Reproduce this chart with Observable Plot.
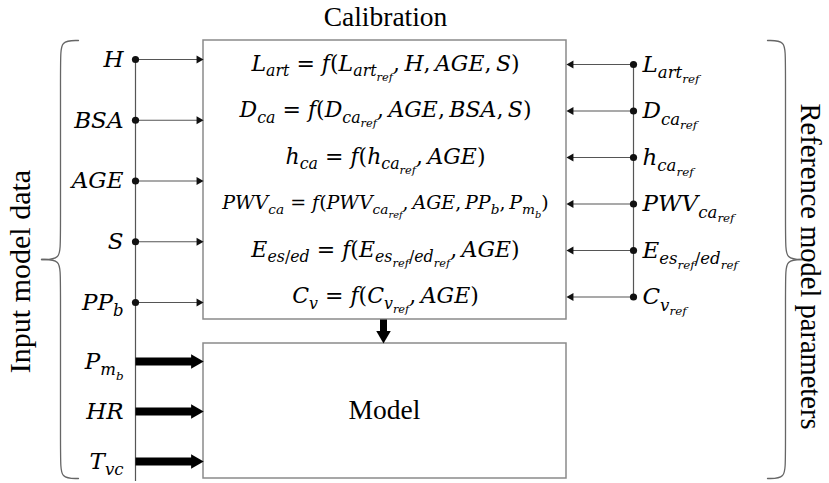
<!DOCTYPE html>
<html><head><meta charset="utf-8">
<script src="https://cdn.jsdelivr.net/npm/d3@7"></script>
<script src="https://cdn.jsdelivr.net/npm/@observablehq/plot@0.6"></script>
<style>
body{margin:0;background:#fff}
svg text.math, svg text.math tspan {font-family:"DejaVu Serif", serif !important; font-style: italic;}
svg text.serif {font-family:"Liberation Serif", "Times New Roman", serif !important;}
</style>
</head><body><div id="chart"></div>
<script>
// ---- content ----
const calibrationInputs = ["H", "BSA", "AGE", "S", "PP_{b}"];
const modelInputs = ["P_{m_{b}}", "HR", "T_{vc}"];
const referenceParams = ["L_{art_{ref}}", "D_{ca_{ref}}", "h_{ca_{ref}}", "PWV_{ca_{ref}}", "E_{es_{ref}/ed_{ref}}", "C_{v_{ref}}"];
const equations = [
  "L_{art} = f(L_{art_{ref}},H,AGE,S)",
  "D_{ca} = f(D_{ca_{ref}},AGE,BSA,S)",
  "h_{ca} = f(h_{ca_{ref}},AGE)",
  "PWV_{ca} = f(PWV_{ca_{ref}},AGE,PP_{b},P_{m_{b}})",
  "E_{es/ed} = f(E_{es_{ref}/ed_{ref}},AGE)",
  "C_{v} = f(C_{v_{ref}},AGE)"
];
const blockTitles = ["Calibration", "Model"];
const groupLabels = ["Input model data", "Reference model parameters"];

// ---- layout ----
const W = 829, H = 483;
const calib = {x1: 203, x2: 566, y1: 40, y2: 319};
const model = {x1: 203, x2: 566, y1: 343, y2: 478};
const leftBus = 135, rightBus = 633;
const inRow0 = 59, inStep = 60.75;
const mRow0 = 361, mStep = 50;
const refRow0 = 64, refStep = 46.5;
const eqX = 385;

const inRows = calibrationInputs.map((label, i) => ({label, y: inRow0 + i * inStep}));
const mRows = modelInputs.map((label, i) => ({label, y: mRow0 + i * mStep}));
const refRows = referenceParams.map((label, i) => ({label, y: refRow0 + i * refStep}));
const eqRows = equations.map((label, i) => ({label, y: refRow0 - 1 + i * refStep, long: label.length > 40}));
const boxes = [{...calib, name: blockTitles[0]}, {...model, name: blockTitles[1]}];

const braceL = [
  ...[[78,40],[60,40],[60,58],[60,241],[60,259],[41,259]].map(([x,y]) => ({x,y,z:"a"})),
  ...[[41,259],[60,259],[60,277],[60,460],[60,478],[78,478]].map(([x,y]) => ({x,y,z:"b"}))
];
const braceR = braceL.map(d => ({x: 845 - d.x, y: d.y, z: d.z}));

const chart = Plot.plot({
  width: W, height: H, margin: 0,
  x: {domain: [0, W], range: [0, W], axis: null},
  y: {domain: [0, H], range: [0, H], axis: null},
  style: {background: "#fff"},
  marks: [
    Plot.line(braceL, {x: "x", y: "y", z: "z", curve: "basis", stroke: "#666", strokeWidth: 1.3}),
    Plot.line(braceR, {x: "x", y: "y", z: "z", curve: "basis", stroke: "#666", strokeWidth: 1.3}),
    Plot.ruleX([leftBus], {y1: inRow0, y2: 481, stroke: "#555", strokeWidth: 1.2}),
    Plot.ruleX([rightBus], {y1: refRow0, y2: refRow0 + (referenceParams.length - 1) * refStep, stroke: "#555", strokeWidth: 1.2}),
    Plot.rect(boxes, {x1: "x1", x2: "x2", y1: "y1", y2: "y2", fill: "#fff", stroke: "#8a8a8a", strokeWidth: 1.5}),
    Plot.link(inRows, {x1: leftBus, x2: calib.x1 - 6, y1: "y", y2: "y", stroke: "#555", strokeWidth: 1.1}),
    Plot.dot(inRows, {x: calib.x1 - 4.6, y: "y", symbol: "triangle", r: 3, rotate: 90, fill: "#111", stroke: null}),
    Plot.dot(inRows, {x: leftBus, y: "y", r: 3.6, fill: "#111"}),
    Plot.link(refRows, {x1: rightBus, x2: calib.x2 + 6, y1: "y", y2: "y", stroke: "#555", strokeWidth: 1.1}),
    Plot.dot(refRows, {x: calib.x2 + 4.6, y: "y", symbol: "triangle", r: 3, rotate: -90, fill: "#111", stroke: null}),
    Plot.dot(refRows, {x: rightBus, y: "y", r: 3.6, fill: "#111"}),
    Plot.link(mRows, {x1: leftBus, x2: model.x1 - 9, y1: "y", y2: "y", stroke: "#000", strokeWidth: 8}),
    Plot.dot(mRows, {x: model.x1 - 8.2, y: "y", symbol: "triangle", r: 5.4, rotate: 90, fill: "#000", stroke: null}),
    Plot.link([eqX - 2], {x1: d => d, x2: d => d, y1: calib.y2, y2: model.y1 - 9, stroke: "#000", strokeWidth: 7}),
    Plot.dot([eqX - 2], {x: d => d, y: model.y1 - 8.4, symbol: "triangle", r: 5.4, rotate: 180, fill: "#000", stroke: null}),
    Plot.text(inRows.concat(mRows), {x: leftBus - 12, y: "y", text: "label", textAnchor: "end", fontSize: 23, fill: "#000", className: "mathlbl"}),
    Plot.text(refRows, {x: rightBus + 9, y: "y", text: "label", textAnchor: "start", fontSize: 23, fill: "#000", className: "mathlbl"}),
    Plot.text(eqRows, {x: eqX, y: "y", text: "label", fontSize: d => d.long ? 19 : 22, fill: "#000", className: "mathlbl"}),
    Plot.text([blockTitles[0]], {x: eqX, y: 17, text: d => d, fontSize: 27.5, fill: "#000", className: "seriflbl"}),
    Plot.text([blockTitles[1]], {x: eqX - 1, y: 410, text: d => d, fontSize: 27.5, fill: "#000", className: "seriflbl"}),
    Plot.text([groupLabels[0]], {x: 20, y: 271, text: d => d, rotate: -90, fontSize: 30, fill: "#000", className: "seriflbl"}),
    Plot.text([groupLabels[1]], {x: 810, y: 266, text: d => d, rotate: 90, fontSize: 28.5, fill: "#000", className: "seriflbl"})
  ]
});
document.getElementById("chart").appendChild(chart);

chart.querySelectorAll("g.mathlbl text").forEach(t => t.classList.add("math"));
chart.querySelectorAll("g.seriflbl text").forEach(t => t.classList.add("serif"));

// ---- render "_{...}" markup as real subscripts ----
function parseRuns(s, level, out) {
  let buf = "", i = 0;
  while (i < s.length) {
    if (s[i] === "_" && s[i + 1] === "{") {
      if (buf) { out.push({t: buf, level}); buf = ""; }
      let depth = 1, j = i + 2;
      while (j < s.length && depth > 0) { if (s[j] === "{") depth++; else if (s[j] === "}") depth--; j++; }
      parseRuns(s.slice(i + 2, j - 1), level + 1, out);
      i = j;
    } else { buf += s[i]; i++; }
  }
  if (buf) out.push({t: buf, level});
  return out;
}
chart.querySelectorAll("text.math").forEach(t => {
  const s = t.textContent;
  const base = parseFloat(getComputedStyle(t).fontSize);
  const runs = parseRuns(s, 0, []);
  const size = l => base * Math.pow(0.72, l);
  const offset = l => { let o = 0; for (let k = 0; k < l; k++) o += size(k) * 0.27; return o; };
  while (t.firstChild) t.removeChild(t.firstChild);
  let cur = 0;
  runs.forEach(r => {
    const pieces = r.t.match(/[A-Za-z]+|[^A-Za-z]+/g) || [];
    pieces.forEach((p, k) => {
      const ts = document.createElementNS("http://www.w3.org/2000/svg", "tspan");
      const target = offset(r.level);
      if (k === 0 && target !== cur) { ts.setAttribute("dy", (target - cur).toFixed(2)); cur = target; }
      ts.setAttribute("font-size", size(r.level).toFixed(2));
      if (!/[A-Za-z]/.test(p)) ts.style.fontStyle = "normal";
      ts.textContent = r.level === 0 ? p.replace(/,/g, ",\u2009") : p;
      t.appendChild(ts);
    });
  });
});
</script>
</body></html>
